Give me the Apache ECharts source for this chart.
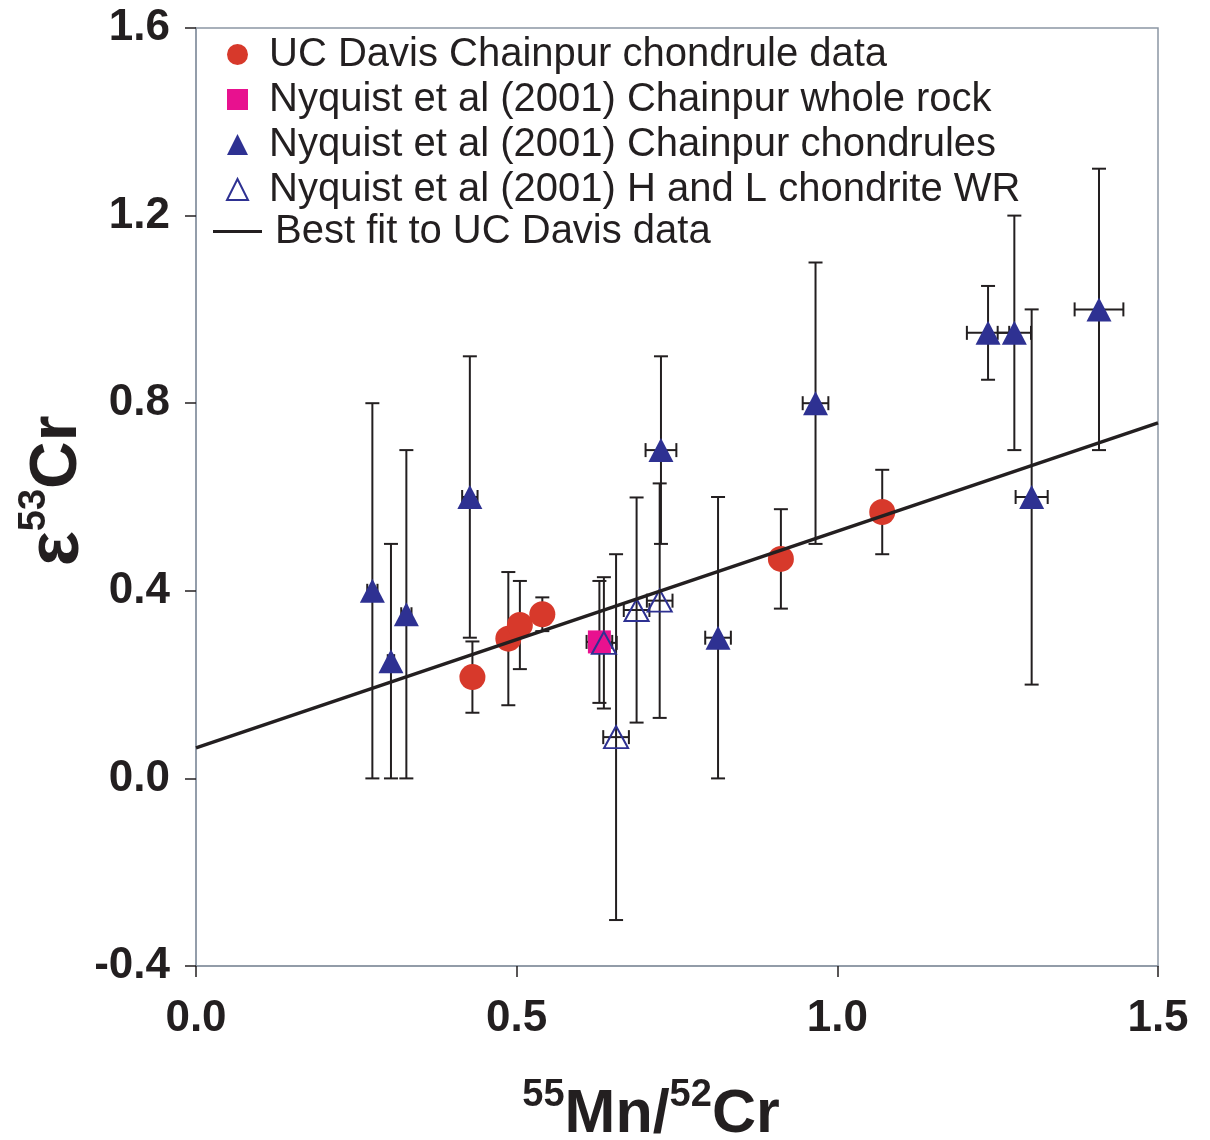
<!DOCTYPE html>
<html>
<head>
<meta charset="utf-8">
<script src="https://cdn.jsdelivr.net/npm/echarts@6/dist/echarts.min.js"></script>
<style>
  html, body { margin: 0; padding: 0; background: #fff; }
  #chart { width: 1210px; height: 1140px; }
</style>
</head>
<body>
<div id="chart"></div>
<script>
// UC Davis Chainpur chondrules
var ucdX = [0.431, 0.487, 0.505, 0.540, 0.912, 1.070];
var ucdY = [0.216, 0.298, 0.327, 0.350, 0.468, 0.568];
var ucdYErr = [0.076, 0.142, 0.094, 0.036, 0.106, 0.090];

// Nyquist whole rock
var wrX = [0.629];
var wrY = [0.291];
var wrYErr = [0.13];
var wrXErr = [0.02];

// Nyquist chondrules (filled triangles)
var chX = [0.275, 0.304, 0.328, 0.427, 0.725, 0.814, 0.966, 1.235, 1.276, 1.303, 1.408];
var chY = [0.400, 0.250, 0.350, 0.600, 0.700, 0.300, 0.800, 0.950, 0.950, 0.600, 1.000];
var chYErr = [0.40, 0.25, 0.35, 0.30, 0.20, 0.30, 0.30, 0.10, 0.25, 0.40, 0.30];
var chXErr = [0.008, 0.005, 0.008, 0.012, 0.024, 0.02, 0.02, 0.033, 0.026, 0.025, 0.038];

// Nyquist H and L chondrite WR (open triangles)
var hlX = [0.636, 0.655, 0.687, 0.723];
var hlY = [0.289, 0.088, 0.359, 0.379];
var hlYErr = [0.14, 0.39, 0.24, 0.25];
var hlXErr = [0.02, 0.02, 0.02, 0.02];

// best fit line end points
var fitX = [0, 1.5];
var fitY = [0.065, 0.758];

var names = [
  'UC Davis Chainpur chondrule data',
  'Nyquist et al (2001) Chainpur whole rock',
  'Nyquist et al (2001) Chainpur chondrules',
  'Nyquist et al (2001) H and L chondrite WR',
  'Best fit to UC Davis data'
];

var ink = '#231f20';
var red = '#d7392b';
var pink = '#e8118f';
var blue = '#2e3192';
var font = '"Liberation Sans", Arial, sans-serif';

function pts(xs, ys) {
  return xs.map(function (x, i) { return [x, ys[i]]; });
}
function errPts(xs, ys, xe, ye) {
  return xs.map(function (x, i) { return [x, ys[i], xe ? xe[i] : 0, ye[i]]; });
}

function errorBars(params, api) {
  var x = api.value(0), y = api.value(1), xe = api.value(2), ye = api.value(3);
  var c = 7;
  var style = { stroke: ink, lineWidth: 2 };
  var kids = [];
  if (ye > 0) {
    var top = api.coord([x, y + ye]), bot = api.coord([x, y - ye]);
    kids.push({ type: 'line', shape: { x1: top[0], y1: top[1], x2: bot[0], y2: bot[1] }, style: style });
    kids.push({ type: 'line', shape: { x1: top[0] - c, y1: top[1], x2: top[0] + c, y2: top[1] }, style: style });
    kids.push({ type: 'line', shape: { x1: bot[0] - c, y1: bot[1], x2: bot[0] + c, y2: bot[1] }, style: style });
  }
  if (xe > 0) {
    var l = api.coord([x - xe, y]), r = api.coord([x + xe, y]);
    kids.push({ type: 'line', shape: { x1: l[0], y1: l[1], x2: r[0], y2: r[1] }, style: style });
    kids.push({ type: 'line', shape: { x1: l[0], y1: l[1] - c, x2: l[0], y2: l[1] + c }, style: style });
    kids.push({ type: 'line', shape: { x1: r[0], y1: r[1] - c, x2: r[0], y2: r[1] + c }, style: style });
  }
  return { type: 'group', children: kids };
}

function errSeries(data) {
  return {
    type: 'custom',
    renderItem: errorBars,
    data: data,
    encode: { x: 0, y: 1 },
    z: 1,
    silent: true
  };
}

var chart = echarts.init(document.getElementById('chart'));
chart.setOption({
  animation: false,
  textStyle: { fontFamily: font, color: ink },
  grid: {
    left: 196, right: 52, top: 28, bottom: 174,
    containLabel: false, outerBoundsMode: 'none',
    show: true, borderColor: '#8c97a4', borderWidth: 1.5
  },
  legend: [{
    data: [
      { name: names[0], icon: 'circle' },
      { name: names[1], icon: 'rect' },
      { name: names[2], icon: 'triangle' },
      { name: names[3], icon: 'triangle', itemStyle: { color: '#fff', borderColor: blue, borderWidth: 2 } }
    ],
    orient: 'vertical',
    left: 221, top: 27,
    itemWidth: 21, itemHeight: 21, itemGap: 0,
    textStyle: { fontSize: 40, lineHeight: 45, color: ink, fontFamily: font, padding: [0, 0, 0, 16] }
  }, {
    data: [{ name: names[4], icon: 'rect', itemStyle: { color: ink } }],
    orient: 'vertical',
    left: 208, top: 204,
    itemWidth: 49, itemHeight: 3, itemGap: 0,
    textStyle: { fontSize: 40, lineHeight: 45, color: ink, fontFamily: font, padding: [0, 0, 0, 8] }
  }],
  xAxis: {
    type: 'value', min: 0, max: 1.5, interval: 0.5,
    axisLine: { onZero: false, lineStyle: { color: '#8c97a4', width: 1.5 } },
    axisTick: { length: 11, lineStyle: { color: ink, width: 1.5 } },
    splitLine: { show: false },
    axisLabel: {
      margin: 31, fontSize: 44, fontWeight: 'bold', color: ink, fontFamily: font,
      formatter: function (v) { return v.toFixed(1); }
    },
    name: '{s|55}{b|Mn/}{s|52}{b|Cr}',
    nameLocation: 'middle', nameGap: 111,
    nameTextStyle: {
      padding: [0, 52, 0, 0],
      rich: {
        s: { fontSize: 38, fontWeight: 'bold', fontFamily: font, color: ink, verticalAlign: 'top', lineHeight: 40 },
        b: { fontSize: 61, fontWeight: 'bold', fontFamily: font, color: ink, lineHeight: 76 }
      }
    }
  },
  yAxis: {
    type: 'value', min: -0.4, max: 1.6, interval: 0.4,
    axisLine: { onZero: false, lineStyle: { color: '#8c97a4', width: 1.5 } },
    axisTick: { length: 11, lineStyle: { color: ink, width: 1.5 } },
    splitLine: { show: false },
    axisLabel: {
      margin: 26, fontSize: 44, fontWeight: 'bold', color: ink, fontFamily: font,
      formatter: function (v) { return v.toFixed(1); }
    },
    name: '{e|ε}{s|53}{b|Cr}',
    nameLocation: 'middle', nameGap: 96, nameMoveOverlap: false,
    nameTextStyle: {
      padding: [0, 0, 0, 12],
      rich: {
        e: { fontSize: 74, fontWeight: 'bold', fontFamily: font, color: ink, lineHeight: 84 },
        s: { fontSize: 38, fontWeight: 'bold', fontFamily: font, color: ink, verticalAlign: 'top', lineHeight: 42 },
        b: { fontSize: 66, fontWeight: 'bold', fontFamily: font, color: ink, lineHeight: 84 }
      }
    }
  },
  series: [
    errSeries(errPts(ucdX, ucdY, null, ucdYErr)),
    errSeries(errPts(wrX, wrY, wrXErr, wrYErr)),
    errSeries(errPts(chX, chY, chXErr, chYErr)),
    errSeries(errPts(hlX, hlY, hlXErr, hlYErr)),
    {
      name: names[0], type: 'scatter', data: pts(ucdX, ucdY),
      symbol: 'circle', symbolSize: 26, itemStyle: { color: red, opacity: 1 }, z: 2
    },
    {
      name: names[1], type: 'scatter', data: pts(wrX, wrY),
      symbol: 'rect', symbolSize: 23, itemStyle: { color: pink, opacity: 1 }, z: 2
    },
    {
      name: names[2], type: 'scatter', data: pts(chX, chY),
      symbol: 'triangle', symbolSize: [25, 24], itemStyle: { color: blue, opacity: 1 }, z: 2
    },
    {
      name: names[3], type: 'scatter', data: pts(hlX, hlY),
      symbol: 'triangle', symbolSize: [24, 22],
      itemStyle: { color: 'rgba(255,255,255,0)', borderColor: blue, borderWidth: 2, opacity: 1 }, z: 3
    },
    {
      name: names[4], type: 'line', data: pts(fitX, fitY),
      symbol: 'none', lineStyle: { color: ink, width: 3.5 }, itemStyle: { color: ink }, z: 4
    }
  ]
});
</script>
</body>
</html>
